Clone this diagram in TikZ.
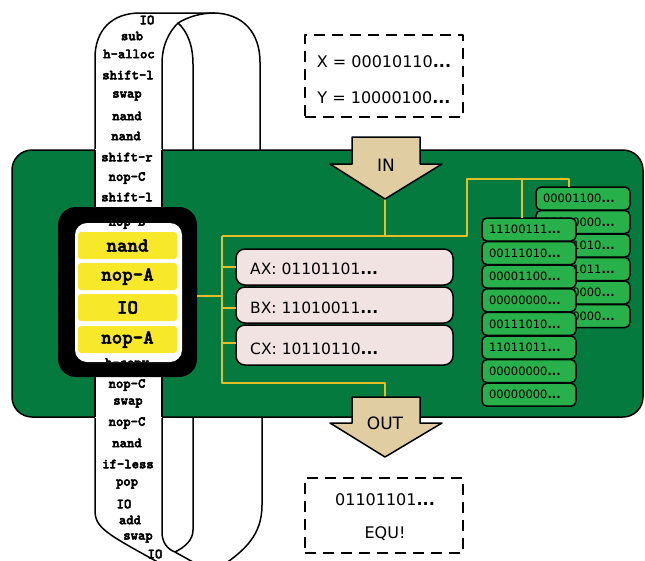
\documentclass[tikz,border=0pt]{standalone}
\usepackage{fontspec}
\setmainfont{DejaVu Sans}
\newcommand\mydots{\textbf{...}}
\newcommand\heavy[1]{\special{pdf:literal direct 2 Tr 0.45 w}#1\special{pdf:literal direct 0 Tr}}
\definecolor{boardgreen}{RGB}{5,122,62}
\definecolor{arrowtan}{RGB}{224,205,162}
\definecolor{wire}{RGB}{228,190,40}
\definecolor{regfill}{RGB}{242,227,227}
\definecolor{stackfill}{RGB}{40,176,75}
\definecolor{ybox}{RGB}{248,232,42}
\begin{document}
\begin{tikzpicture}[x=1pt,y=-1pt,line join=round,
  outl/.style={draw=black,line width=1.5pt},
  tt/.style={font=\ttfamily\bfseries\fontsize{14}{14}\selectfont,inner sep=0pt},
  yt/.style={font=\ttfamily\bfseries\fontsize{20}{20}\selectfont,inner sep=0pt},
  ybx/.style={fill=ybox,rounded corners=3pt,minimum width=99pt,minimum height=27pt,anchor=north west,outer sep=0pt},
  reg/.style={draw=black,line width=1.5pt,fill=regfill,rounded corners=9pt,minimum width=217pt,anchor=north west,outer sep=0pt},
  regt/.style={font=\fontsize{15.5}{16}\selectfont,inner sep=0pt,anchor=west},
  stk/.style={draw=black,line width=1.5pt,fill=stackfill,rounded corners=5pt,anchor=north west,outer sep=0pt,
     minimum height=23pt,text width=80pt,align=left,inner xsep=7pt,inner ysep=0pt,font=\fontsize{11.5}{12}\selectfont},
  wirel/.style={draw=wire,line width=1.8pt},
  dbox/.style={draw=black,line width=1.5pt,dash pattern=on 11pt off 7pt,anchor=north west,outer sep=0pt,minimum width=158pt},
  bigt/.style={font=\fontsize{16}{16}\selectfont,inner sep=0pt},
  arrt/.style={font=\fontsize{17}{17}\selectfont,inner sep=0pt},
  arrowshape/.style={draw=black,line width=1.5pt,fill=arrowtan}]
\useasboundingbox (0,0) rectangle (645,560);
\clip (0,0) rectangle (645,560);

% ---- tape behind the board (top) ----
\path[fill=white] (95,151) -- (95,58) .. controls (95,30) and (112,13) .. (140,13) -- (213,13)
   .. controls (243,13) and (260,33) .. (260,62) -- (260,151) -- cycle;
\draw[outl] (95,150) -- (95,58) .. controls (95,30) and (112,13) .. (140,13) -- (213,13)
   .. controls (243,13) and (260,33) .. (260,62) -- (260,150);
\draw[outl] (162,150) -- (162,64) .. controls (162,45) and (169,32) .. (178,23)
   .. controls (187,31) and (193,45) .. (193,64) -- (193,150);
\draw[outl] (178,23) .. controls (188,17) and (200,13) .. (215,13);

% ---- tape behind the board (bottom) ----
\path[fill=white] (95,416) -- (95,510) .. controls (95,528) and (105,533) .. (165,566) -- (222,566)
   .. controls (245,550) and (262,535) .. (262,505) -- (262,416) -- cycle;
\draw[outl] (95,417) -- (95,510) .. controls (95,528) and (105,533) .. (165,566);
\draw[outl] (262,417) -- (262,505) .. controls (262,535) and (245,550) .. (222,566);
\draw[outl] (162,417) -- (162,532) .. controls (162,542) and (167,549) .. (175,552)
   .. controls (185,547) and (193,540) .. (193,530) -- (193,417);
\draw[outl] (175,552) -- (200,566);

% ---- board ----
\node[draw=black,line width=1.5pt,fill=boardgreen,rounded corners=20pt,minimum width=631pt,
   minimum height=267pt,anchor=north west,outer sep=0pt] (board) at (12,150) {};

% ---- front strip of tape ----
\fill[white] (95,149) rectangle (162,418);
\draw[outl] (95,150) -- (95,417);
\draw[outl] (162,150) -- (162,417);

\foreach \x/\y/\t [count=\i] in {147/20/IO,132/36/sub,129/54/h-alloc,128/75/shift-l,127/96/swap,
   127/116/nand,126/136/nand,127/157/shift-r,127/178/nop-C,127/197/shift-l,
   127/385/nop-C,128/403/swap,127/423/nop-C,127/443/nand,128/464/if-less,127/484/pop,
   124/504/IO,130/520/add,138/538/swap,155/554/IO}
  \node[tt] (tape\i) at (\x,\y) {\heavy{\t}};

% ---- read window ----
\node[fill=black,rounded corners=18pt,minimum width=139pt,minimum height=170pt,anchor=north west,
   outer sep=0pt] (win) at (58,207) {};
\fill[white,rounded corners=12pt] (75,223) rectangle (182,362);
\begin{scope}
  \clip[rounded corners=12pt] (75,223) rectangle (182,362);
  \node[tt] (nopb) at (127,223) {\heavy{nop-B}};
  \node[tt] (hcopy) at (127,364) {\heavy{h-copy}};
\end{scope}
\node[ybx,yt] (y1) at (78,232) {\heavy{nand}};
\node[ybx,yt] (y2) at (78,263) {\heavy{nop-A}};
\node[ybx,yt] (y3) at (78,294) {\heavy{IO}};
\node[ybx,yt] (y4) at (78,326) {\heavy{nop-A}};

% ---- registers ----
\node[reg,minimum height=36pt] (ax) at (236,249) {};
\node[reg,minimum height=36pt] (bx) at (236,287) {};
\node[reg,minimum height=40pt] (cx) at (236,325) {};
\node[regt] (axt) at (250,269) {AX: 01101101\mydots};
\node[regt] (bxt) at (250,308) {BX: 11010011\mydots};
\node[regt] (cxt) at (250,349) {CX: 10110110\mydots};

% ---- stacks ----
\foreach \t [count=\i from 0] in {00001100,00000000,00111010,11011011,00000000,00000000}
  \node[stk] (b\i) at (536,{187+23.5*\i}) {\t\mydots};
\foreach \t [count=\i from 0] in {11100111,00111010,00001100,00000000,00111010,11011011,00000000,00000000}
  \node[stk] (f\i) at (482,{218+23.6*\i}) {\t\mydots};

% ---- wires ----
\coordinate (sT) at (222,236);
\coordinate (sB) at (222,383);
\coordinate (rT) at (467,236);
\coordinate (rU) at (467,179);
\coordinate (rM) at (522,179);
\coordinate (rR) at (569,179);
\coordinate (intip) at (385,199);
\coordinate (outtop) at (385,397);
\draw[wirel] (sT) -- (sB) -| (outtop);
\draw[wirel] (intip) -- (intip |- sT);
\draw[wirel] (sT) -- (rT) -- (rU) -- (rR) -- (b0.north -| rR);
\draw[wirel] (rM) -- (f0.north -| rM);
\draw[wirel] (win.east |- 0,296) -- (sT |- 0,296);
\draw[wirel] (sT |- ax.west) -- (ax.west);
\draw[wirel] (sT |- 0,308) -- (bx.west |- 0,308);
\draw[wirel] (sT |- 0,343) -- (cx.west |- 0,343);

% ---- IN / OUT arrows ----
\draw[arrowshape] (352,137) -- (420,137) -- (420,164) -- (442,164) -- (intip) -- (330,164) -- (352,164) -- cycle;
\node[arrt] (in) at (386,165) {IN};
\draw[arrowshape] (outtop -| 352,0) -- (420,397) -- (420,423) -- (442,423) -- (385,457) -- (330,423) -- (352,423) -- cycle;
\node[arrt] (out) at (385,423) {OUT};

% ---- input / output boxes ----
\node[dbox,minimum height=82pt] (xy) at (305,35) {};
\node[bigt] (xv) at (384,62) {X = 00010110\mydots};
\node[bigt] (yv) at (384,98) {Y = 10000100\mydots};
\node[dbox,minimum height=75pt] (res) at (305,478) {};
\node[bigt] (rv) at (385,500) {01101101\mydots};
\node[bigt] (eq) at (385,534) {EQU!};
\end{tikzpicture}
\end{document}
